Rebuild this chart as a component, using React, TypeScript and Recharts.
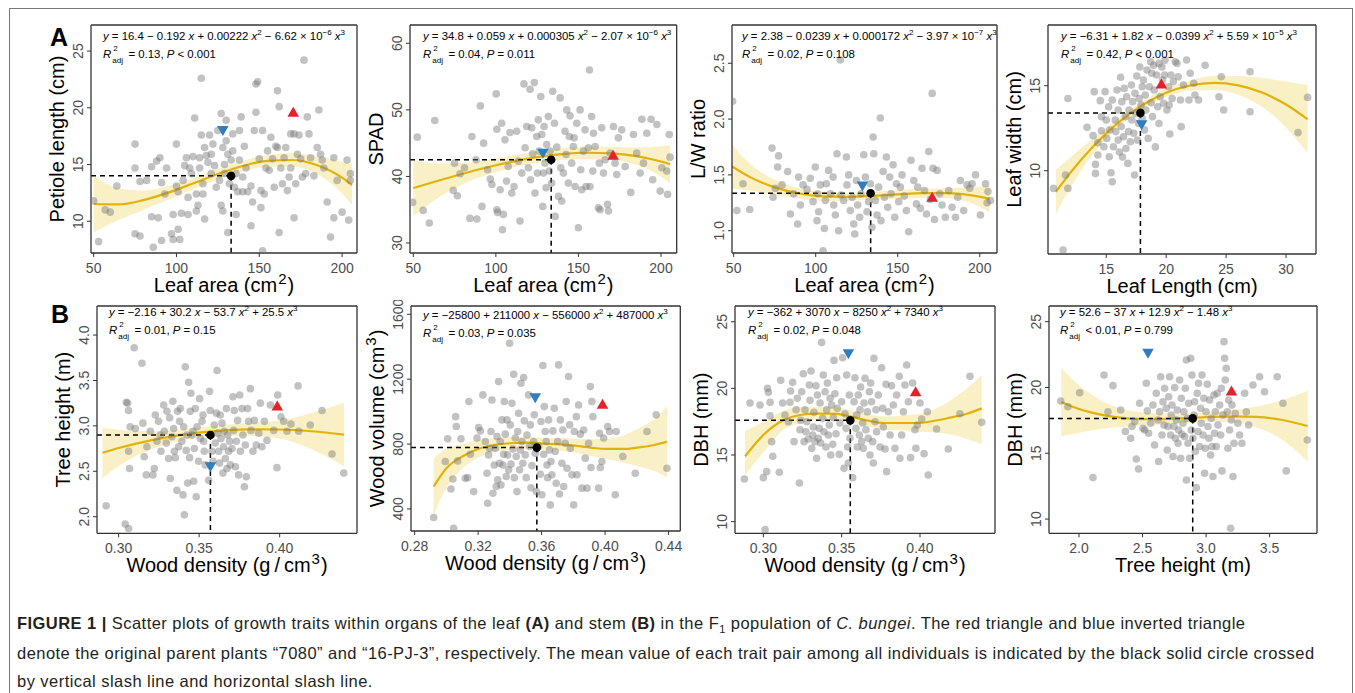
import React from "react";
import {
    ComposedChart,
    Scatter,
    Line,
    Area,
    XAxis,
    YAxis,
    ReferenceLine,
    Label,
} from "recharts";

type Pt = [number, number];

// ---------- panel A1: leaf area vs petiole length ----------
const a1Pts: Pt[] = [[53,8.2],[50,11.8],[57,11.0],[60,10.8],[64,13.1],[75,16.8],[75,14.7],[75,8.9],[78,8.7],[78,13.5],[82,13.6],[85,14.8],[85,10.4],[86,7.7],[88,15.3],[89,10.3],[90,15.6],[91,13.4],[93,12.4],[91,8.3],[94,14.7],[97,8.9],[98,10.6],[98,8.4],[100,16.8],[100,13.1],[101,12.6],[101,9.3],[102,8.4],[103,10.7],[104,13.6],[105,14.9],[106,15.6],[107,12.1],[107,10.6],[108,14.7],[109,14.2],[110,15.7],[111,19.1],[112,10.9],[112,12.4],[113,11.4],[114,14.7],[114,15.6],[115,22.6],[115,17.6],[116,12.4],[116,13.3],[117,16.5],[117,10.2],[118,15.8],[119,15.2],[120,17.6],[121,14.2],[121,15.9],[122,16.8],[123,14.9],[124,13.0],[125,18.0],[126,13.6],[127,19.5],[127,11.4],[128,10.9],[128,16.5],[129,15.0],[129,14.2],[130,18.9],[130,17.1],[131,9.0],[131,15.9],[132,13.3],[133,15.4],[134,16.2],[134,17.7],[135,13.0],[136,14.2],[136,10.6],[137,12.6],[138,15.4],[138,18.0],[139,19.2],[140,13.9],[140,12.6],[141,16.6],[142,14.7],[143,12.6],[145,9.6],[145,13.1],[146,11.7],[147,18.0],[148,19.6],[148,22.1],[149,22.3],[150,15.5],[151,12.7],[151,11.2],[152,18.0],[152,7.4],[153,12.4],[154,14.7],[155,16.2],[156,14.5],[157,17.4],[158,15.5],[159,13.0],[160,16.6],[161,21.5],[161,16.5],[162,9.0],[162,20.1],[163,14.7],[164,13.3],[165,15.6],[166,16.5],[167,12.7],[168,13.9],[169,14.7],[169,17.7],[171,17.7],[171,10.3],[172,13.3],[173,15.9],[174,17.6],[175,15.5],[176,13.9],[177,24.2],[178,14.2],[179,19.2],[180,17.7],[181,15.6],[183,14.0],[185,16.5],[186,19.8],[187,15.9],[188,15.4],[189,14.7],[191,11.7],[193,8.6],[195,15.6],[195,10.3],[197,13.6],[200,10.8],[203,15.4],[204,10.1],[205,14.2],[205,13.6]];
const a1FitX = [50, 65, 80, 95, 110, 125, 140, 155, 170, 185, 200, 206];
const a1FitY = [11.52, 11.48, 11.86, 12.52, 13.33, 14.16, 14.87, 15.33, 15.4, 14.94, 13.84, 13.19];
const a1Lo = [9.0, 10.1, 11.0, 11.9, 12.8, 13.7, 14.4, 14.8, 14.8, 14.15, 12.45, 11.4];
const a1Hi = [14.0, 12.9, 12.7, 13.1, 13.8, 14.6, 15.3, 15.85, 16.0, 15.7, 15.25, 15.0];
const a1Mean: Pt = [133, 14.0];
const a1Red: Pt = [170.5, 19.6];
const a1Blue: Pt = [128, 18.0];

// ---------- panel A2: leaf area vs SPAD ----------
const a2Pts: Pt[] = [[49.6,36.1],[52.4,45.9],[56,34.9],[59.7,33],[63,48.4],[74.2,37.9],[75,42],[76.7,37.1],[78.3,40.4],[81,41.3],[84.3,33.7],[85.5,46],[88,42.5],[88.5,33.6],[90.6,50.6],[91.6,35.5],[92.6,45],[95,41],[96.6,39.6],[97.6,38.8],[100.2,52.4],[100.6,47.1],[100.6,35],[101,34.6],[102.6,38],[103.5,48],[104,32],[104.5,34.3],[105.5,45.5],[106.5,39.3],[107.5,41.5],[108.5,46.6],[109.6,37.5],[111,38.5],[112.6,46.8],[113.6,42.3],[114.6,33.3],[115.7,40.5],[117,53.9],[117.7,44.3],[118.7,47.5],[119.7,41.3],[120.7,53.1],[121,39.5],[121.7,47.3],[122.3,43.4],[123.3,54.1],[123.7,37.5],[124.7,46],[125.2,40.5],[125.7,48.5],[126.3,43.8],[127.2,52],[127.8,46.3],[128.4,35.5],[128.8,40.5],[129.2,47.5],[129.8,42],[130.4,38.3],[130.8,44.8],[131.8,49],[132.4,40.8],[132.8,43.8],[133.8,39],[134.4,52.8],[135.5,48],[135.9,34],[136.9,44.4],[137.9,37],[138.9,51.8],[139.3,41.3],[139.9,36.3],[140.9,40.5],[141.9,46.8],[142.5,43.3],[142.9,50],[143.9,39],[144.5,46],[144.9,49.1],[145.9,42],[146.9,44.5],[147.4,45.8],[148,38.5],[149,48],[150,32.3],[151,50],[151.4,41],[152,38],[153,43.8],[154,47],[154.6,38.5],[156,44.3],[156.7,56],[157,38.5],[158,49],[158.7,40.8],[159.1,46.5],[160.1,44.5],[162.1,35.3],[162.7,42],[163.1,35],[164.1,47.3],[165.2,40.5],[166.2,42.5],[167.6,35.8],[168.2,34.8],[169.2,43.5],[171.2,47.5],[172.2,42],[173.2,40.3],[174.2,45.8],[176.2,47],[178.3,41.5],[181.7,37.6],[183.3,46.3],[185.3,43.5],[187.4,40.5],[188.4,48.6],[189.4,42],[191.4,46.5],[194,48.6],[195,39.5],[197.5,47.8],[199.5,37.8],[200.5,41.3],[203.5,40.8],[204,37.3],[205,46.3],[205.5,42.9]];
const a2FitX = [50, 65, 80, 95, 110, 125, 140, 155, 170, 185, 200, 205.5];
const a2FitY = [38.25, 39.36, 40.41, 41.38, 42.23, 42.9, 43.36, 43.56, 43.47, 43.05, 42.24, 41.84];
const a2Lo = [34.05, 36.76, 38.81, 40.28, 41.33, 42.05, 42.46, 42.61, 42.47, 41.75, 39.94, 38.94];
const a2Hi = [42.45, 41.96, 42.01, 42.48, 43.13, 43.75, 44.26, 44.51, 44.47, 44.35, 44.54, 44.74];
const a2Mean: Pt = [133.5, 42.5];
const a2Red: Pt = [171, 43.2];
const a2Blue: Pt = [128.5, 43.5];

// ---------- panel A3: leaf area vs L/W ratio ----------
const a3Pts: Pt[] = [[49.4,2.16],[52,1.18],[55.7,1.42],[59.8,1.19],[73.4,1.74],[74,1.30],[75.4,1.38],[76.8,1.57],[77.4,1.67],[79.5,1.41],[82.9,1.53],[84.6,1.15],[86.6,1.33],[89,1.06],[89.6,1.48],[90.7,1.23],[92.3,1.41],[94.7,1.37],[96.7,1.47],[98.4,1.26],[99.8,1.57],[100.8,1.09],[101.2,1.33],[101.8,1.17],[102.8,1.41],[104.5,0.82],[105.3,1.02],[105.9,1.27],[106.5,1.42],[107.9,1.54],[109,1.33],[110.6,1.48],[111,1.23],[112,1.14],[113,1.69],[114,1.00],[115,2.53],[115.4,1.32],[117,1.27],[118.7,1.66],[119.1,1.41],[120.1,1.50],[121.1,1.18],[122.2,1.30],[123.2,1.06],[123.8,0.97],[124.8,1.45],[125.6,1.23],[126.8,1.12],[127.6,1.33],[129.3,1.68],[130.3,1.48],[131.3,1.17],[132.3,1.26],[133.3,1.42],[134.3,1.03],[135,1.84],[135.4,1.69],[136.4,1.27],[137.4,1.14],[138.4,1.39],[139.4,2.01],[139.8,1.09],[141.1,1.53],[141.9,1.30],[143.1,1.66],[143.9,1.21],[145.1,1.48],[145.9,1.33],[147.2,1.59],[148.2,1.12],[149.2,1.42],[150.6,1.26],[151.6,1.39],[152.6,1.50],[154,1.31],[155.3,1.18],[156.7,0.99],[158.1,1.63],[159.8,1.45],[161.4,1.24],[162.2,1.39],[163.8,1.20],[164.8,1.56],[166.3,1.36],[167.5,1.15],[168.9,1.71],[169.9,1.28],[171,2.23],[171.5,1.56],[172.4,1.10],[174,1.54],[175.6,1.33],[177,1.23],[179,1.12],[181.1,1.36],[183.1,1.21],[185.2,1.12],[186.6,1.30],[188.2,1.45],[190.2,1.18],[192.3,1.41],[193.9,1.38],[195.3,1.42],[197.4,1.50],[200.4,1.14],[203.5,1.42],[204.5,1.25],[205,1.35],[206.5,1.27]];
const a3FitX = [49, 60, 75, 90, 105, 120, 135, 150, 165, 180, 195, 206];
const a3FitY = [1.575, 1.48, 1.388, 1.333, 1.307, 1.303, 1.312, 1.325, 1.336, 1.336, 1.316, 1.285];
const a3Lo = [1.375, 1.36, 1.318, 1.288, 1.267, 1.268, 1.277, 1.285, 1.296, 1.291, 1.246, 1.165];
const a3Hi = [1.775, 1.6, 1.458, 1.378, 1.347, 1.338, 1.347, 1.365, 1.376, 1.381, 1.386, 1.405];
const a3Mean: Pt = [133.5, 1.335];
const a3Red: Pt = [171, 1.30];
const a3Blue: Pt = [128.5, 1.40];

// ---------- panel A4: leaf length vs leaf width ----------
const a4Pts: Pt[] = [[10.6,8.96],[11.4,5.33],[11.6,9.75],[11.8,8.96],[11.8,14.25],[13.4,12.55],[13.9,12.06],[14,14.65],[14.1,10.37],[14.1,9.84],[14.3,10.92],[14.3,11.65],[14.5,14.12],[14.6,13.18],[14.6,12.35],[14.8,11.41],[14.9,14.65],[15.0,12.98],[15.05,11.9],[15.2,13.76],[15.25,10.82],[15.3,12.39],[15.4,9.88],[15.5,14.16],[15.5,9.35],[15.6,11.41],[15.75,12.98],[15.8,12.3],[15.9,14.75],[16,11.8],[16,13.57],[16.1,11.1],[16.2,15.5],[16.25,12.6],[16.3,14.06],[16.36,10.8],[16.44,12],[16.5,14.84],[16.6,13.18],[16.64,11.3],[16.7,14.35],[16.8,10.43],[16.86,12.3],[16.9,13.57],[17,11.7],[17.1,15.04],[17.14,12.98],[17.2,14.06],[17.3,12.2],[17.36,9.75],[17.4,14.55],[17.47,13.37],[17.55,15.57],[17.6,11.8],[17.7,12.78],[17.75,14.25],[17.8,16.1],[17.9,13.86],[18,14.94],[18,13.08],[18.1,15.33],[18.2,12.4],[18.25,14.45],[18.3,13.57],[18.4,15.92],[18.5,11.9],[18.6,14.94],[18.7,16.41],[18.75,14],[18.8,15.73],[18.86,13.18],[18.95,16.2],[19,14.75],[19.1,11.4],[19.2,15.63],[19.3,13.76],[19.4,16.31],[19.4,12.78],[19.5,14.35],[19.64,16.1],[19.7,15.33],[19.78,13.96],[19.86,15.63],[19.9,16.5],[20.06,13.57],[20.2,14.94],[20.25,13.86],[20.3,12.16],[20.4,15.63],[20.5,14.25],[20.6,15.24],[20.75,16.41],[20.9,16.31],[21,15.53],[21.2,14.16],[21.25,12.59],[21.44,15.04],[21.7,16.51],[21.9,14.16],[22,15.73],[22.3,15.14],[22.4,14.45],[22.7,14.16],[23.25,16.2],[24.4,14.35],[24.6,15.53],[24.8,13.57],[27,15.82],[27,13.47],[31,12.24],[31.8,14.31]];
const a4FitX = [10.8, 12, 14, 16, 18, 20, 22, 24, 26, 28, 30, 31.8];
const a4FitY = [8.76, 9.88, 11.5, 12.83, 13.85, 14.58, 15.01, 15.16, 15.02, 14.6, 13.89, 13.02];
const a4Lo = [7.46, 8.98, 11.05, 12.58, 13.63, 14.33, 14.71, 14.74, 14.47, 13.75, 12.54, 11.02];
const a4Hi = [10.06, 10.78, 11.95, 13.08, 14.07, 14.83, 15.31, 15.58, 15.57, 15.45, 15.24, 15.02];
const a4Mean: Pt = [17.85, 13.4];
const a4Red: Pt = [19.6, 15.1];
const a4Blue: Pt = [17.95, 12.7];

// ---------- panel B1: wood density vs tree height ----------
const b1Pts: Pt[] = [[0.2923,2.12],[0.3041,1.92],[0.3062,1.87],[0.3048,3.26],[0.3056,3.25],[0.3062,3.17],[0.3062,2.72],[0.3068,2.53],[0.3072,2.99],[0.3097,3.86],[0.3104,2.97],[0.3145,3.69],[0.3151,3.03],[0.3159,2.66],[0.3172,2.46],[0.3176,2.77],[0.3197,2.94],[0.3213,2.46],[0.3222,2.53],[0.3228,3.12],[0.3238,2.83],[0.3248,3.05],[0.3259,2.90],[0.3263,2.72],[0.3280,3.23],[0.3284,2.94],[0.3296,2.81],[0.3300,3.16],[0.3311,2.64],[0.3317,3.09],[0.3321,2.42],[0.3331,2.88],[0.3337,3.27],[0.3342,2.97],[0.3346,2.72],[0.3352,2.65],[0.3362,2.29],[0.3366,3.16],[0.3373,2.77],[0.3379,3.05],[0.3383,3.19],[0.3393,2.83],[0.3400,2.24],[0.3404,2.99],[0.3408,2.02],[0.3414,3.65],[0.3420,2.73],[0.3424,2.90],[0.3429,2.37],[0.3435,3.48],[0.3441,2.65],[0.3445,3.16],[0.3449,3.36],[0.3455,2.90],[0.3462,2.94],[0.3466,2.39],[0.3470,2.75],[0.3476,3.19],[0.3482,2.22],[0.3487,2.99],[0.3497,2.61],[0.3503,3.30],[0.3507,2.86],[0.3518,3.05],[0.3524,3.12],[0.3528,2.83],[0.3532,2.72],[0.3538,2.57],[0.3559,2.40],[0.3565,3.38],[0.3569,3.17],[0.3573,2.90],[0.3580,2.72],[0.3586,2.61],[0.3594,3.01],[0.3600,2.81],[0.3607,3.14],[0.3611,3.61],[0.3615,2.92],[0.3621,2.72],[0.3627,2.59],[0.3631,3.12],[0.3636,2.86],[0.3642,3.03],[0.3648,2.48],[0.3652,2.77],[0.3656,2.94],[0.3663,2.64],[0.3669,3.19],[0.3673,2.53],[0.3677,2.90],[0.3683,2.72],[0.3689,2.83],[0.3694,2.57],[0.3704,2.75],[0.3710,3.32],[0.3714,2.95],[0.3718,3.17],[0.3725,2.55],[0.3731,2.83],[0.3739,3.06],[0.3745,2.46],[0.3752,3.34],[0.3756,2.72],[0.3766,3.19],[0.3772,2.90],[0.3781,2.33],[0.3787,2.79],[0.3793,2.44],[0.3801,3.19],[0.3807,3.05],[0.3818,3.41],[0.3822,2.95],[0.3834,2.72],[0.3843,3.06],[0.3855,2.79],[0.3870,2.92],[0.3880,3.25],[0.3890,2.77],[0.3905,3.05],[0.3921,2.84],[0.3942,3.23],[0.3963,2.95],[0.3983,2.54],[0.3988,3.34],[0.4008,3.10],[0.4025,3.05],[0.4046,2.94],[0.4070,3.02],[0.4114,3.44],[0.4118,2.94],[0.4190,3.01],[0.4263,3.17],[0.4325,2.69],[0.4398,2.48]];
const b1FitX = [0.29, 0.30, 0.32, 0.34, 0.36, 0.38, 0.40, 0.42, 0.44];
const b1FitY = [2.704, 2.756, 2.841, 2.903, 2.942, 2.961, 2.96, 2.941, 2.904];
const b1Lo = [2.424, 2.556, 2.741, 2.843, 2.882, 2.891, 2.86, 2.741, 2.554];
const b1Hi = [2.984, 2.956, 2.941, 2.963, 3.002, 3.031, 3.06, 3.141, 3.254];
const b1Mean: Pt = [0.357, 2.90];
const b1Red: Pt = [0.3985, 3.22];
const b1Blue: Pt = [0.357, 2.55];

// ---------- panel B2: wood density vs wood volume ----------
const b2Pts: Pt[] = [[0.2920,347],[0.3046,281],[0.3008,832],[0.2993,692],[0.3029,523],[0.3041,585],[0.3058,969],[0.3062,908],[0.3071,696],[0.3092,832],[0.3119,589],[0.3134,593],[0.3142,1062],[0.3151,737],[0.3172,507],[0.3193,837],[0.3203,902],[0.3214,881],[0.3230,1103],[0.3245,816],[0.3256,620],[0.3260,435],[0.3266,733],[0.3273,774],[0.3281,877],[0.3287,1072],[0.3293,497],[0.3302,671],[0.3308,774],[0.3314,538],[0.3319,846],[0.3323,579],[0.3329,1185],[0.3335,682],[0.3340,816],[0.3344,548],[0.3350,949],[0.3356,671],[0.3361,737],[0.3365,1062],[0.3371,861],[0.3377,600],[0.3382,949],[0.3386,733],[0.3392,641],[0.3398,1421],[0.3403,918],[0.3407,676],[0.3413,1051],[0.3419,769],[0.3424,1230],[0.3428,593],[0.3434,837],[0.3440,723],[0.3445,507],[0.3449,877],[0.3455,990],[0.3461,641],[0.3466,764],[0.3470,1175],[0.3476,816],[0.3482,682],[0.3487,1210],[0.3491,943],[0.3497,733],[0.3503,593],[0.3508,856],[0.3518,1103],[0.3524,785],[0.3529,918],[0.3533,531],[0.3539,667],[0.3550,816],[0.3554,980],[0.3560,743],[0.3567,507],[0.3581,785],[0.3592,614],[0.3596,939],[0.3602,487],[0.3608,1284],[0.3613,737],[0.3617,1031],[0.3623,877],[0.3629,816],[0.3634,671],[0.3638,593],[0.3644,949],[0.3650,764],[0.3655,425],[0.3659,692],[0.3665,610],[0.3671,881],[0.3680,1021],[0.3686,754],[0.3692,558],[0.3701,816],[0.3707,1288],[0.3713,492],[0.3718,949],[0.3728,682],[0.3734,887],[0.3739,538],[0.3749,805],[0.3755,1062],[0.3760,651],[0.3770,1216],[0.3777,918],[0.3781,774],[0.3791,610],[0.3802,425],[0.3806,877],[0.3819,969],[0.3823,610],[0.3833,1041],[0.3844,861],[0.3854,528],[0.3865,887],[0.3875,713],[0.3886,528],[0.3896,805],[0.3907,1154],[0.3911,655],[0.3917,1062],[0.3923,969],[0.3959,528],[0.3965,867],[0.3970,655],[0.3980,692],[0.3991,837],[0.4016,908],[0.4028,877],[0.4064,487],[0.4070,877],[0.4112,723],[0.4190,620],[0.4264,877],[0.4322,980],[0.4390,651]];
const b2FitX = [0.292, 0.300, 0.310, 0.320, 0.330, 0.340, 0.351, 0.361, 0.370, 0.381, 0.391, 0.401, 0.412, 0.420, 0.431, 0.439];
const b2FitY = [538, 651, 723, 770, 794, 805, 809, 803, 799, 790, 778, 770, 770, 778, 794, 815];
const b2Lo = [363, 531, 648, 715, 752, 767, 773, 767, 761, 746, 726, 708, 685, 665, 634, 595];
const b2Hi = [713, 771, 798, 825, 836, 843, 845, 839, 837, 834, 830, 832, 855, 891, 954, 1035];
const b2Mean: Pt = [0.357, 778];
const b2Red: Pt = [0.3984, 1045];
const b2Blue: Pt = [0.356, 1086];

// ---------- panel B3: wood density vs DBH ----------
const b3Pts: Pt[] = [[0.2879,13.2],[0.2915,18.9],[0.2979,18.75],[0.30,13.3],[0.3011,9.4],[0.3021,13.75],[0.3026,20],[0.3032,19.7],[0.3043,18.95],[0.3043,17.95],[0.3053,16],[0.3060,14.9],[0.3102,13.7],[0.3111,20.6],[0.3123,18.9],[0.3138,18],[0.3160,17.5],[0.3170,18.95],[0.3174,19.8],[0.3187,20.45],[0.3196,16],[0.3209,18.4],[0.3217,19.25],[0.3230,12.9],[0.3234,16.9],[0.3238,17.6],[0.3245,19.75],[0.3255,21.1],[0.3260,16],[0.3266,18.4],[0.3272,16.75],[0.3277,17.5],[0.3287,16.2],[0.3294,20.25],[0.3298,19.1],[0.3304,21.3],[0.3309,15.5],[0.3315,16.5],[0.3319,17.1],[0.3323,18.2],[0.3330,16],[0.3336,20.2],[0.3340,14.75],[0.3345,19.5],[0.3351,16.25],[0.3357,17],[0.3362,18.9],[0.3366,15.9],[0.3372,23.45],[0.3379,17.75],[0.3383,21],[0.3387,16.75],[0.3394,19.75],[0.3400,15.6],[0.3404,18.4],[0.3409,20.4],[0.3415,16.5],[0.3421,17.25],[0.3426,19.25],[0.3430,15],[0.3436,18.75],[0.3443,15.8],[0.3447,17.8],[0.3451,22.1],[0.3457,19.6],[0.3464,16.6],[0.3468,20.8],[0.3472,18.5],[0.3485,15.05],[0.3489,17.4],[0.3500,19],[0.3506,22.3],[0.3515,14],[0.3521,18.1],[0.3528,17],[0.3532,21],[0.3538,15.6],[0.3543,14.4],[0.3549,19.5],[0.3553,16.25],[0.3570,13.3],[0.3579,19],[0.3585,20.8],[0.3591,17],[0.3596,18],[0.3600,15.6],[0.3606,19.5],[0.3613,16.5],[0.3617,18.4],[0.3621,20.1],[0.3628,16],[0.3634,17.4],[0.3638,15.5],[0.3643,18.9],[0.3649,20.75],[0.3655,16.9],[0.3664,18.25],[0.3670,16.25],[0.3677,19.75],[0.3681,15],[0.3685,20.4],[0.3691,19],[0.3698,16],[0.3702,14.4],[0.3706,22.25],[0.3713,17.5],[0.3719,18.4],[0.3723,16.75],[0.3734,19.5],[0.3745,15.6],[0.3755,21.55],[0.3762,18.5],[0.3766,17.1],[0.3777,15.45],[0.3783,20.3],[0.3787,13.75],[0.3798,18.25],[0.3809,16.5],[0.3819,20.2],[0.3830,18.75],[0.3840,15.5],[0.3851,19.5],[0.3868,20.9],[0.3872,14.75],[0.3883,16.5],[0.3894,18.25],[0.3904,20.25],[0.3915,21.75],[0.3926,19],[0.3940,14.8],[0.3953,20.4],[0.3968,16.9],[0.3974,15.5],[0.3983,17.25],[0.4,18.9],[0.4011,17.7],[0.4026,15.1],[0.4047,18.25],[0.4053,13.5],[0.4106,16.95],[0.4181,15.45],[0.4255,18.1],[0.4319,20.9],[0.4394,17.45]];
const b3FitX = [0.2883, 0.30, 0.3128, 0.3234, 0.334, 0.345, 0.3553, 0.366, 0.377, 0.387, 0.398, 0.4085, 0.419, 0.43, 0.4394];
const b3FitY = [14.9, 16.5, 17.6, 18.0, 18.1, 18.1, 17.9, 17.6, 17.4, 17.4, 17.4, 17.55, 17.8, 18.1, 18.5];
const b3Lo = [13.5, 15.2, 16.9, 17.4, 17.6, 17.6, 17.45, 17.15, 16.9, 16.85, 16.75, 16.7, 16.55, 16.2, 15.8];
const b3Hi = [16.8, 17.5, 18.3, 18.6, 18.6, 18.6, 18.35, 18.1, 17.9, 17.95, 18.05, 18.4, 19.05, 20.0, 21.0];
const b3Mean: Pt = [0.3555, 17.6];
const b3Red: Pt = [0.3972, 19.75];
const b3Blue: Pt = [0.3543, 22.6];

// ---------- panel B4: tree height vs DBH ----------
const b4Pts: Pt[] = [[1.856,18.97],[1.913,18.54],[2.005,19.6],[2.11,13.15],[2.197,20.95],[2.228,18.16],[2.267,20.14],[2.328,18.29],[2.365,16.65],[2.407,16.14],[2.417,17.03],[2.438,17.41],[2.451,14.57],[2.469,13.81],[2.477,18.8],[2.504,16.9],[2.517,16.77],[2.53,20.32],[2.538,18.22],[2.548,16.52],[2.564,17.28],[2.582,18.67],[2.595,15.63],[2.608,19.56],[2.622,17.53],[2.627,14.37],[2.635,18.16],[2.643,20.82],[2.653,16.39],[2.661,18.92],[2.669,17.15],[2.674,19.94],[2.687,18.42],[2.695,15.25],[2.70,17.03],[2.706,19.3],[2.713,20.82],[2.721,16.39],[2.726,17.91],[2.732,18.67],[2.74,14.75],[2.747,17.03],[2.753,19.99],[2.758,16.14],[2.766,17.53],[2.774,18.29],[2.779,15.76],[2.784,16.77],[2.792,20.57],[2.80,14.62],[2.805,19.18],[2.81,16.44],[2.818,17.28],[2.826,18.16],[2.831,16.27],[2.837,19.94],[2.845,22.09],[2.845,12.97],[2.852,17.66],[2.858,15.76],[2.863,18.8],[2.871,14.62],[2.879,22.22],[2.884,16.77],[2.889,20.95],[2.897,16.14],[2.905,17.91],[2.91,18.92],[2.915,15.13],[2.923,12.39],[2.931,19.56],[2.936,16.65],[2.941,20.32],[2.949,15.51],[2.957,18.42],[2.962,17.28],[2.968,20.95],[2.976,16.39],[2.983,19.18],[2.989,13.48],[2.994,15.38],[3.0,18.16],[3.01,20.24],[3.015,17.03],[3.023,16.14],[3.028,19.05],[3.036,14.87],[3.041,17.66],[3.046,15.51],[3.054,13.23],[3.062,19.43],[3.067,16.52],[3.073,18.16],[3.08,15.51],[3.088,19.56],[3.094,17.15],[3.107,18.67],[3.115,16.39],[3.12,19.94],[3.125,13.66],[3.133,17.91],[3.141,23.48],[3.146,22.22],[3.151,20.57],[3.159,21.46],[3.167,18.16],[3.172,15.38],[3.178,19.05],[3.185,16.77],[3.193,9.3],[3.199,17.53],[3.204,18.67],[3.212,13.23],[3.22,15.76],[3.23,18.04],[3.251,17.28],[3.264,16.39],[3.282,15.76],[3.304,19.56],[3.317,18.16],[3.335,17.15],[3.369,20.19],[3.421,20.82],[3.46,19.68],[3.56,20.82],[3.605,18.8],[3.631,13.66],[3.797,16.01]];
const b4FitX = [1.86, 2.0, 2.2, 2.4, 2.6, 2.8, 3.0, 3.2, 3.4, 3.6, 3.8];
const b4FitY = [18.89, 18.36, 17.88, 17.64, 17.59, 17.65, 17.74, 17.8, 17.76, 17.53, 17.07];
const b4Lo = [16.29, 16.56, 16.88, 17.04, 17.14, 17.3, 17.39, 17.35, 16.96, 16.03, 14.37];
const b4Hi = [21.49, 20.16, 18.88, 18.24, 18.04, 18.0, 18.09, 18.25, 18.56, 19.03, 19.77];
const b4Mean: Pt = [2.895, 17.65];
const b4Red: Pt = [3.2, 19.73];
const b4Blue: Pt = [2.543, 22.6];

const FONT = '"Liberation Sans", Arial, Helvetica, sans-serif';
const CURVE = "#e3b20a";
const BAND = "#ecd04e";

type Title = { text: string; sup?: string; after?: string };

interface PanelCfg {
    box: [number, number, number, number];
    xDomain: [number, number];
    yDomain: [number, number];
    xTicks: number[];
    yTicks: number[];
    xFmt: (v: number) => string;
    yFmt: (v: number) => string;
    pts: Pt[];
    fitX: number[];
    fitY: number[];
    lo: number[];
    hi: number[];
    mean: Pt;
    red: Pt;
    blue: Pt;
    xTitle: Title;
    yTitle: Title;
}

const f0 = (v: number) => String(v);
const f1 = (v: number) => v.toFixed(1);
const f2 = (v: number) => v.toFixed(2);

const leafArea: Title = { text: "Leaf area (cm", sup: "2", after: ")" };
const woodDens: Title = { text: "Wood density (g\u2009/\u2009cm", sup: "3", after: ")" };

const panels: PanelCfg[] = [
    { box: [90.7, 25, 356.7, 253], xDomain: [48.4, 209], yDomain: [7.2, 27.3], xTicks: [50, 100, 150, 200], yTicks: [10, 15, 20, 25], xFmt: f0, yFmt: f0, pts: a1Pts, fitX: a1FitX, fitY: a1FitY, lo: a1Lo, hi: a1Hi, mean: a1Mean, red: a1Red, blue: a1Blue, xTitle: leafArea, yTitle: { text: "Petiole length (cm)" } },
    { box: [410, 25, 676.7, 253], xDomain: [48, 209.5], yDomain: [28.5, 62.75], xTicks: [50, 100, 150, 200], yTicks: [30, 40, 50, 60], xFmt: f0, yFmt: f0, pts: a2Pts, fitX: a2FitX, fitY: a2FitY, lo: a2Lo, hi: a2Hi, mean: a2Mean, red: a2Red, blue: a2Blue, xTitle: leafArea, yTitle: { text: "SPAD" } },
    { box: [731.7, 25, 996.7, 253], xDomain: [49, 210.5], yDomain: [0.8, 2.843], xTicks: [50, 100, 150, 200], yTicks: [1, 1.5, 2, 2.5], xFmt: f0, yFmt: f1, pts: a3Pts, fitX: a3FitX, fitY: a3FitY, lo: a3Lo, hi: a3Hi, mean: a3Mean, red: a3Red, blue: a3Blue, xTitle: leafArea, yTitle: { text: "L/W ratio" } },
    { box: [1047.7, 25, 1315.7, 254], xDomain: [10.14, 32.5], yDomain: [5.1, 18.57], xTicks: [15, 20, 25, 30], yTicks: [10, 15], xFmt: f0, yFmt: f0, pts: a4Pts, fitX: a4FitX, fitY: a4FitY, lo: a4Lo, hi: a4Hi, mean: a4Mean, red: a4Red, blue: a4Blue, xTitle: { text: "Leaf Length (cm)" }, yTitle: { text: "Leaf width (cm)" } },
    { box: [96.7, 306, 356.7, 533.3], xDomain: [0.2866, 0.448], yDomain: [1.817, 4.32], xTicks: [0.3, 0.35, 0.4], yTicks: [2, 2.5, 3, 3.5, 4], xFmt: f2, yFmt: f1, pts: b1Pts, fitX: b1FitX, fitY: b1FitY, lo: b1Lo, hi: b1Hi, mean: b1Mean, red: b1Red, blue: b1Blue, xTitle: woodDens, yTitle: { text: "Tree height (m)" } },
    { box: [410.7, 306, 680, 531], xDomain: [0.2777, 0.4474], yDomain: [264, 1651], xTicks: [0.28, 0.32, 0.36, 0.4, 0.44], yTicks: [400, 800, 1200, 1600], xFmt: f2, yFmt: f0, pts: b2Pts, fitX: b2FitX, fitY: b2FitY, lo: b2Lo, hi: b2Hi, mean: b2Mean, red: b2Red, blue: b2Blue, xTitle: woodDens, yTitle: { text: "Wood volume (cm", sup: "3", after: ")" } },
    { box: [735, 306, 995, 533.3], xDomain: [0.2819, 0.4479], yDomain: [9.125, 26.18], xTicks: [0.3, 0.35, 0.4], yTicks: [10, 15, 20, 25], xFmt: f2, yFmt: f0, pts: b3Pts, fitX: b3FitX, fitY: b3FitY, lo: b3Lo, hi: b3Hi, mean: b3Mean, red: b3Red, blue: b3Blue, xTitle: woodDens, yTitle: { text: "DBH (mm)" } },
    { box: [1049.3, 306, 1317.3, 533.3], xDomain: [1.764, 3.873], yDomain: [8.92, 26.19], xTicks: [2, 2.5, 3, 3.5], yTicks: [10, 15, 20, 25], xFmt: f1, yFmt: f0, pts: b4Pts, fitX: b4FitX, fitY: b4FitY, lo: b4Lo, hi: b4Hi, mean: b4Mean, red: b4Red, blue: b4Blue, xTitle: { text: "Tree height (m)" }, yTitle: { text: "DBH (mm)" } },
];

const PAD_L = 64;
const PAD_T = 6;
const PAD_R = 6;
const PAD_B = 48;

function TitleText({ t, x, y, rotate }: { t: Title; x: number; y: number; rotate?: boolean }) {
    return (
        <text
            x={x}
            y={y}
            textAnchor="middle"
            fontSize={20}
            fontFamily={FONT}
            fill="#000"
            transform={rotate ? `rotate(-90 ${x} ${y})` : undefined}
        >
            <tspan>{t.text}</tspan>
            {t.sup && (
                <tspan dx={1} dy={-8} fontSize={15}>
                    {t.sup}
                </tspan>
            )}
            {t.after && <tspan dx={t.sup ? 1 : 0} dy={t.sup ? 8 : 0}>{t.after}</tspan>}
        </text>
    );
}

const dotShape = (p: any) => <circle cx={p.cx} cy={p.cy} r={3.8} fill="#777" fillOpacity={0.45} />;
const upShape = (p: any) => (
    <polygon points={`${p.cx},${p.cy - 5.5} ${p.cx - 5.8},${p.cy + 4.5} ${p.cx + 5.8},${p.cy + 4.5}`} fill="#e3232a" />
);
const downShape = (p: any) => (
    <polygon points={`${p.cx},${p.cy + 5.5} ${p.cx - 5.8},${p.cy - 4.5} ${p.cx + 5.8},${p.cy - 4.5}`} fill="#2f7fc0" />
);
const meanShape = (p: any) => <circle cx={p.cx} cy={p.cy} r={4.3} fill="#000" />;

function Panel({ cfg }: { cfg: PanelCfg }) {
    const [x0, y0, x1, y1] = cfg.box;
    const w = x1 - x0;
    const h = y1 - y0;
    const fitData = cfg.fitX.map((x, i) => ({ x, y: cfg.fitY[i], band: [cfg.lo[i], cfg.hi[i]] }));
    const ptsData = cfg.pts.map(([x, y]) => ({ x, y }));
    const one = (p: Pt) => [{ x: p[0], y: p[1] }];
    const [xa, xb] = cfg.xDomain;
    const [ya, yb] = cfg.yDomain;
    const frame = { stroke: "#333", strokeWidth: 1.3, ifOverflow: "visible" as const };

    return (
        <div style={{ position: "absolute", left: x0 - PAD_L, top: y0 - PAD_T }}>
            <ComposedChart
                width={w + PAD_L + PAD_R}
                height={h + PAD_T + PAD_B}
                data={fitData}
                margin={{ top: PAD_T, right: PAD_R, bottom: 0, left: 0 }}
            >
                <XAxis
                    type="number"
                    dataKey="x"
                    domain={cfg.xDomain}
                    ticks={cfg.xTicks}
                    interval={0}
                    allowDataOverflow
                    height={PAD_B}
                    axisLine={false}
                    tickSize={4}
                    tickMargin={6}
                    tickLine={{ stroke: "#333" }}
                    tickFormatter={cfg.xFmt}
                    tick={{ fill: "#4d4d4d", fontSize: 14, fontFamily: FONT }}
                >
                    <Label
                        content={(p: any) => {
                            const vb = p.viewBox;
                            return <TitleText t={cfg.xTitle} x={vb.x + vb.width / 2} y={vb.y + 39} />;
                        }}
                    />
                </XAxis>
                <YAxis
                    type="number"
                    dataKey="y"
                    domain={cfg.yDomain}
                    ticks={cfg.yTicks}
                    interval={0}
                    allowDataOverflow
                    width={PAD_L}
                    axisLine={false}
                    tickSize={4}
                    tickMargin={4}
                    tickLine={{ stroke: "#333" }}
                    tick={(p: any) => (
                        <text
                            x={p.x}
                            y={p.y}
                            transform={`rotate(-90 ${p.x} ${p.y})`}
                            textAnchor="middle"
                            fontSize={14}
                            fontFamily={FONT}
                            fill="#4d4d4d"
                        >
                            {cfg.yFmt(p.payload.value)}
                        </text>
                    )}
                >
                    <Label
                        content={(p: any) => {
                            const vb = p.viewBox;
                            return <TitleText t={cfg.yTitle} x={vb.x + vb.width - 27} y={vb.y + vb.height / 2} rotate />;
                        }}
                    />
                </YAxis>
                <Scatter data={ptsData} shape={dotShape} isAnimationActive={false} />
                <Area type="monotone" dataKey="band" stroke="none" fill={BAND} fillOpacity={0.32} isAnimationActive={false} />
                <Line type="monotone" dataKey="y" stroke={CURVE} strokeWidth={2.2} dot={false} isAnimationActive={false} />
                <ReferenceLine
                    segment={[{ x: xa, y: cfg.mean[1] }, { x: cfg.mean[0], y: cfg.mean[1] }]}
                    stroke="#000"
                    strokeWidth={1.5}
                    strokeDasharray="5 4"
                    ifOverflow="visible"
                />
                <ReferenceLine
                    segment={[{ x: cfg.mean[0], y: cfg.mean[1] }, { x: cfg.mean[0], y: ya }]}
                    stroke="#000"
                    strokeWidth={1.5}
                    strokeDasharray="5 4"
                    ifOverflow="visible"
                />
                <Scatter data={one(cfg.red)} shape={upShape} isAnimationActive={false} />
                <Scatter data={one(cfg.blue)} shape={downShape} isAnimationActive={false} />
                <Scatter data={one(cfg.mean)} shape={meanShape} isAnimationActive={false} />
                <ReferenceLine segment={[{ x: xa, y: ya }, { x: xb, y: ya }]} {...frame} />
                <ReferenceLine segment={[{ x: xa, y: yb }, { x: xb, y: yb }]} {...frame} />
                <ReferenceLine segment={[{ x: xa, y: ya }, { x: xa, y: yb }]} {...frame} />
                <ReferenceLine segment={[{ x: xb, y: ya }, { x: xb, y: yb }]} {...frame} />
            </ComposedChart>
        </div>
    );
}

const supS: React.CSSProperties = { fontSize: 8, position: "relative", top: -5 };

function R2() {
    return (
        <>
            <i>R</i>
            <span style={{ display: "inline-block", position: "relative", width: 14, height: 10 }}>
                <span style={{ position: "absolute", left: 2, top: -8, fontSize: 8 }}>2</span>
                <span style={{ position: "absolute", left: 1, top: 4, fontSize: 8 }}>adj</span>
            </span>
        </>
    );
}

const X = () => <i>x</i>;

const equations: { left: number; top: number; l1: React.ReactNode; l2: React.ReactNode }[] = [
    { left: 103, top: 27.5, l1: <><i>y</i> = 16.4 − 0.192 <X /> + 0.00222 <X /><span style={supS}>2</span> − 6.62 × 10<span style={supS}>−6</span> <X /><span style={supS}>3</span></>, l2: <><R2 /> = 0.13, <i>P</i> &lt; 0.001</> },
    { left: 423, top: 27.5, l1: <><i>y</i> = 34.8 + 0.059 <X /> + 0.000305 <X /><span style={supS}>2</span> − 2.07 × 10<span style={supS}>−6</span> <X /><span style={supS}>3</span></>, l2: <><R2 /> = 0.04, <i>P</i> = 0.011</> },
    { left: 742, top: 27.5, l1: <><i>y</i> = 2.38 − 0.0239 <X /> + 0.000172 <X /><span style={supS}>2</span> − 3.97 × 10<span style={supS}>−7</span> <X /><span style={supS}>3</span></>, l2: <><R2 /> = 0.02, <i>P</i> = 0.108</> },
    { left: 1061, top: 27.5, l1: <><i>y</i> = −6.31 + 1.82 <X /> − 0.0399 <X /><span style={supS}>2</span> + 5.59 × 10<span style={supS}>−5</span> <X /><span style={supS}>3</span></>, l2: <><R2 /> = 0.42, <i>P</i> &lt; 0.001</> },
    { left: 109, top: 303.5, l1: <><i>y</i> = −2.16 + 30.2 <X /> − 53.7 <X /><span style={supS}>2</span> + 25.5 <X /><span style={supS}>3</span></>, l2: <><R2 /> = 0.01, <i>P</i> = 0.15</> },
    { left: 423, top: 306.5, l1: <><i>y</i> = −25800 + 211000 <X /> − 556000 <X /><span style={supS}>2</span> + 487000 <X /><span style={supS}>3</span></>, l2: <><R2 /> = 0.03, <i>P</i> = 0.035</> },
    { left: 748, top: 303.5, l1: <><i>y</i> = −362 + 3070 <X /> − 8250 <X /><span style={supS}>2</span> + 7340 <X /><span style={supS}>3</span></>, l2: <><R2 /> = 0.02, <i>P</i> = 0.048</> },
    { left: 1060, top: 303.5, l1: <><i>y</i> = 52.6 − 37 <X /> + 12.9 <X /><span style={supS}>2</span> − 1.48 <X /><span style={supS}>3</span></>, l2: <><R2 /> &lt; 0.01, <i>P</i> = 0.799</> },
];

export default function App() {
    return (
        <div style={{ position: "absolute", left: 0, top: 0, width: 1355, height: 693, background: "#fff", overflow: "hidden", fontFamily: FONT }}>
            <div style={{ position: "absolute", left: 9, top: 8, width: 1342, height: 720, border: "1px solid #777" }} />
            {panels.map((p, i) => (
                <Panel key={i} cfg={p} />
            ))}
            {equations.map((e, i) => (
                <div key={i} style={{ position: "absolute", left: e.left, top: e.top, fontSize: 11.4, lineHeight: "17px", whiteSpace: "nowrap", color: "#000" }}>
                    <div>{e.l1}</div>
                    <div>{e.l2}</div>
                </div>
            ))}
            <div style={{ position: "absolute", left: 50, top: 23, fontSize: 25, fontWeight: "bold", lineHeight: "28px" }}>A</div>
            <div style={{ position: "absolute", left: 51, top: 300, fontSize: 25, fontWeight: "bold", lineHeight: "28px" }}>B</div>
            <div style={{ position: "absolute", left: 17, top: 609, fontSize: 16.5, letterSpacing: 0.45, lineHeight: "28px", color: "#231f20", whiteSpace: "nowrap" }}>
                <b>FIGURE 1 |</b> Scatter plots of growth traits within organs of the leaf <b>(A)</b> and stem <b>(B)</b> in the F<sub style={{ fontSize: 11, verticalAlign: "baseline", position: "relative", top: 4 }}>1</sub> population of <i>C. bungei</i>. The red triangle and blue inverted triangle
                <br />
                denote the original parent plants “7080” and “16-PJ-3”, respectively. The mean value of each trait pair among all individuals is indicated by the black solid circle crossed
                <br />
                by vertical slash line and horizontal slash line.
            </div>
        </div>
    );
}
